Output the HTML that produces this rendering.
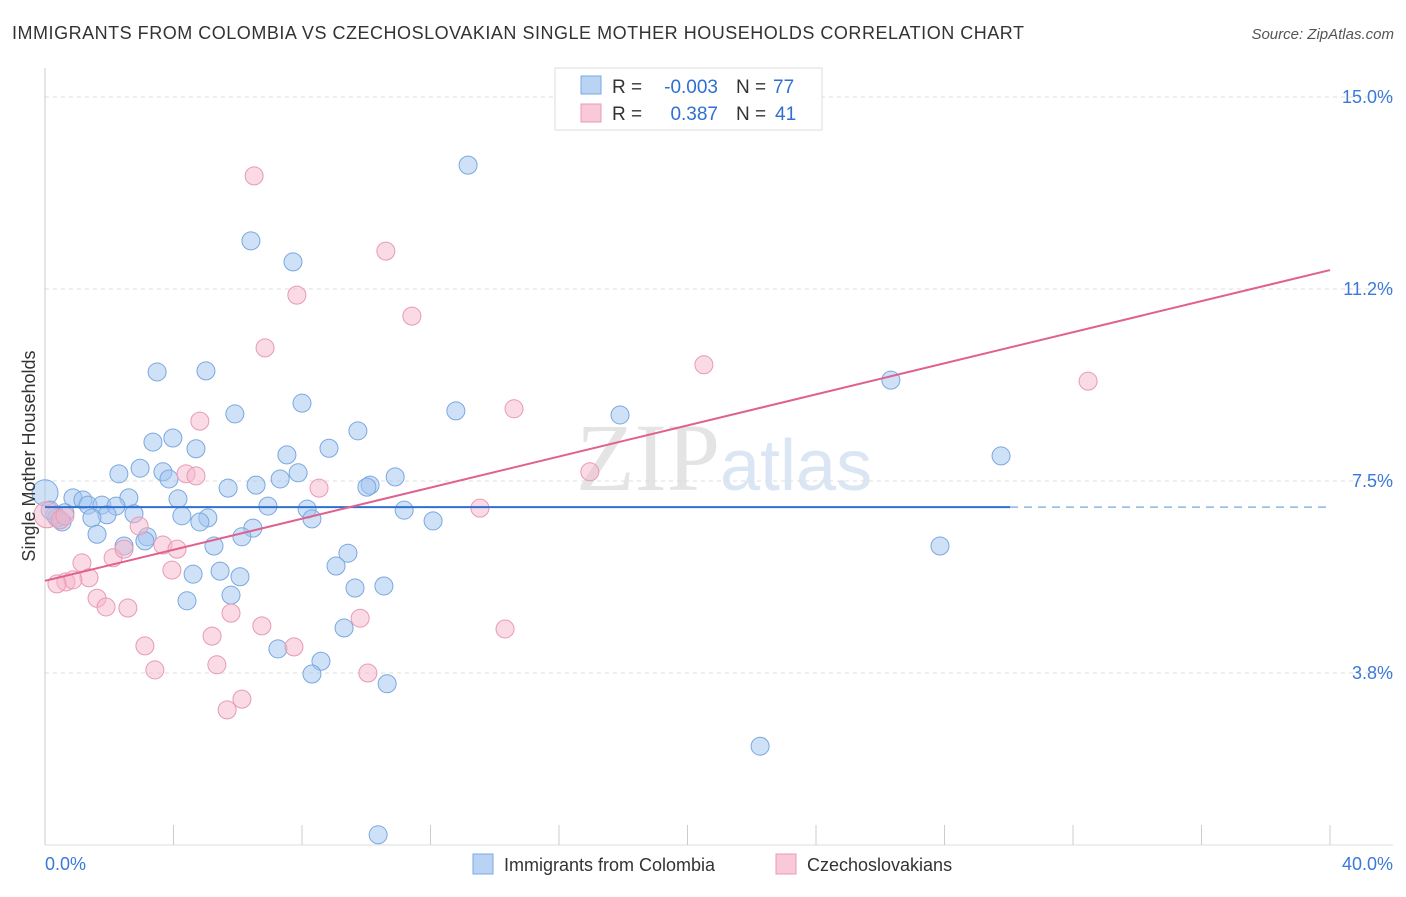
<!DOCTYPE html>
<html><head><meta charset="utf-8"><style>
body{margin:0;background:#fff;font-family:"Liberation Sans",sans-serif;}
</style></head><body>
<svg id="c" width="1406" height="892" xmlns="http://www.w3.org/2000/svg">
<text x="12" y="39" font-size="18" fill="#333" textLength="1012" lengthAdjust="spacing">IMMIGRANTS FROM COLOMBIA VS CZECHOSLOVAKIAN SINGLE MOTHER HOUSEHOLDS CORRELATION CHART</text>
<text x="1394" y="39" font-size="15" fill="#555" text-anchor="end" font-style="italic">Source: ZipAtlas.com</text>
<text x="720" y="490" font-size="96" fill="#e4e4e4" text-anchor="end" font-family="Liberation Serif">ZIP</text>
<text x="720" y="490" font-size="72" fill="#dbe6f5">atlas</text>
<g id="grid"></g><g id="axes"></g><g id="pts"></g><g id="lines"></g>
<g>
<rect x="555" y="68" width="267" height="62" fill="#fff" stroke="#ddd"/>
<rect x="581" y="76" width="20" height="18" fill="#b9d3f5" stroke="#7aa8e0"/>
<rect x="581" y="104" width="20" height="18" fill="#f9c9d8" stroke="#e89ab5"/>
<text x="612" y="93" font-size="19" fill="#333">R =</text>
<text x="718" y="93" font-size="19" fill="#2f6fd0" text-anchor="end">-0.003</text>
<text x="736" y="93" font-size="19" fill="#333">N =</text>
<text x="773" y="93" font-size="19" fill="#2f6fd0">77</text>
<text x="612" y="120" font-size="19" fill="#333">R =</text>
<text x="718" y="120" font-size="19" fill="#2f6fd0" text-anchor="end">0.387</text>
<text x="736" y="120" font-size="19" fill="#333">N =</text>
<text x="775" y="120" font-size="19" fill="#2f6fd0">41</text>
</g>
<text x="35" y="456" font-size="18" fill="#333" transform="rotate(-90 35 456)" text-anchor="middle">Single Mother Households</text>
<text x="45" y="870" font-size="18" fill="#3b78d8">0.0%</text>
<text x="1393" y="870" font-size="18" fill="#3b78d8" text-anchor="end">40.0%</text>
<g>
<rect x="473" y="854" width="20" height="20" fill="#b9d3f5" stroke="#7aa8e0"/>
<text x="504" y="871" font-size="18" fill="#333">Immigrants from Colombia</text>
<rect x="776" y="854" width="20" height="20" fill="#f9c9d8" stroke="#e89ab5"/>
<text x="807" y="871" font-size="18" fill="#333">Czechoslovakians</text>
</g>
</svg>
<script>
const yTicks=[15,11.25,7.5,3.75];
const yTickLabels=["15.0%","11.2%","7.5%","3.8%"];
const xTicks=[0,4,8,12,16,20,24,28,32,36,40];
const blueX=[13.17,6.41,7.72,3.49,5.01,26.33,8.00,12.79,5.91,17.90,9.74,3.36,3.98,4.70,8.84,29.76,7.53,2.30,2.96,3.67,3.86,7.88,7.32,10.90,10.12,10.02,5.70,6.57,2.61,4.14,0.87,1.18,1.34,1.77,2.21,1.93,1.46,2.77,4.26,5.07,4.82,8.16,8.31,11.18,12.08,6.94,6.47,6.13,1.62,3.18,3.11,2.46,5.26,9.43,27.86,9.06,4.61,5.45,6.07,9.65,10.55,4.42,5.79,9.31,7.25,8.59,8.31,10.65,22.26,10.37,0,0.31,0.47,0.62,0.37,0.53,0.16];
const blueY=[13.67,12.19,11.78,9.63,9.65,9.47,9.02,8.87,8.81,8.79,8.48,8.26,8.34,8.13,8.14,7.99,8.01,7.64,7.75,7.68,7.54,7.66,7.54,7.58,7.42,7.38,7.36,7.42,7.17,7.15,7.17,7.13,7.03,7.03,7.01,6.84,6.78,6.86,6.82,6.78,6.70,6.95,6.76,6.93,6.72,7.01,6.58,6.41,6.46,6.41,6.33,6.23,6.23,6.09,6.23,5.84,5.68,5.74,5.63,5.41,5.45,5.16,5.27,4.63,4.22,3.98,3.73,3.54,2.32,0.59,7.27,6.84,6.74,6.88,6.78,6.70,6.93];
const pinkX=[6.51,10.61,7.84,11.42,6.85,20.51,32.47,14.60,4.82,4.39,4.70,16.96,8.53,13.54,2.93,0.06,0.47,0.62,1.15,2.12,2.46,3.67,4.11,3.95,1.37,0.65,0.87,0.37,1.62,1.90,2.58,5.79,6.75,9.81,14.32,5.20,7.75,3.11,3.42,5.35,10.05,6.13,5.67];
const pinkY=[13.46,11.99,11.13,10.72,10.10,9.77,9.45,8.91,8.67,7.64,7.60,7.68,7.36,6.97,6.62,6.84,6.74,6.82,5.90,6.00,6.17,6.25,6.17,5.76,5.61,5.53,5.57,5.49,5.21,5.04,5.02,4.92,4.67,4.82,4.61,4.47,4.26,4.28,3.81,3.91,3.75,3.24,3.03];
const blueTrend=[[0,6.99],[30.04,6.99],[40,6.99]];
const pinkTrend=[[0,5.55],[40,11.62]];
const X=v=>45+v*32.125, Y=v=>97+(15-v)*51.2;
const NS="http://www.w3.org/2000/svg";
function mk(p,t,a){const e=document.createElementNS(NS,t);for(const k in a)e.setAttribute(k,a[k]);document.getElementById(p).appendChild(e);return e;}
yTicks.forEach((t,i)=>{
 const l=mk('grid','line',{x1:45,x2:1393,y1:Y(t),y2:Y(t),stroke:'#ddd','stroke-dasharray':'4,4'});
 
 
 const tx=mk('grid','text',{x:1393,y:Y(t)+6,'font-size':18,fill:'#3b78d8','text-anchor':'end'});
 tx.textContent=yTickLabels[i];
 
 
});
const ax=mk('axes','line',{x1:45,x2:45,y1:68,y2:845,stroke:'#ccc'});


const bx=mk('axes','line',{x1:45,x2:1393,y1:845,y2:845,stroke:'#ddd'});


xTicks.forEach(t=>{
 const l=mk('axes','line',{x1:X(t),x2:X(t),y1:825,y2:845,stroke:'#ccc'});
 
 
});
blueX.forEach((x,i)=>{
 const c=mk('pts','circle',{cx:X(x),cy:Y(blueY[i]),r:i==70?13:9,fill:'rgba(160,196,240,0.5)',stroke:'#7aa8e0','stroke-width':1});
 
 
});
pinkX.forEach((x,i)=>{
 const c=mk('pts','circle',{cx:X(x),cy:Y(pinkY[i]),r:i==15?13:9,fill:'rgba(246,182,202,0.5)',stroke:'#e89ab5','stroke-width':1});
 
 
});
const b1=mk('lines','line',{x1:X(blueTrend[0][0]),y1:Y(blueTrend[0][1]),x2:X(blueTrend[1][0]),y2:Y(blueTrend[1][1]),stroke:'#2f6fd0','stroke-width':2});


const b2=mk('lines','line',{x1:X(blueTrend[1][0]),y1:Y(blueTrend[1][1]),x2:X(blueTrend[2][0]),y2:Y(blueTrend[2][1]),stroke:'#8fb3e6','stroke-width':1.5,'stroke-dasharray':'8,6'});


const p1=mk('lines','line',{x1:X(pinkTrend[0][0]),y1:Y(pinkTrend[0][1]),x2:X(pinkTrend[1][0]),y2:Y(pinkTrend[1][1]),stroke:'#e0608f','stroke-width':2});


</script>
</body></html>
